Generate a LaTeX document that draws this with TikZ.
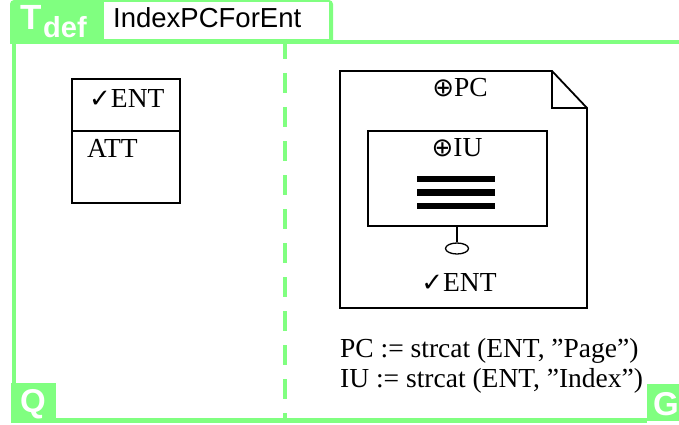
\documentclass[tikz,border=0pt]{standalone}
\usepackage{fontspec}
\setmainfont{Liberation Serif}
\newfontfamily\hvfont{Liberation Sans}
\newfontfamily\symfont{DejaVu Sans}
\usetikzlibrary{shapes.geometric}
\definecolor{framegreen}{RGB}{128,255,128}
\newcommand{\chk}{{\symfont\bfseries\fontsize{26}{30}\selectfont ✓}}
\newcommand{\opl}{{\symfont\fontsize{26}{30}\selectfont ⊕}}
\tikzset{
  rim/.style={draw=framegreen, line width=4.5pt},
  lbl/.style={inner sep=0pt, anchor=base west, font=\fontsize{27.5}{30}\selectfont},
  clbl/.style={inner sep=0pt, anchor=base, font=\fontsize{27.5}{30}\selectfont},
  corner/.style={inner sep=0pt, anchor=base west, text=white, font=\hvfont\bfseries\fontsize{35}{38}\selectfont},
  box/.style={draw=black, line width=1.8pt},
  bar/.style={line width=6.5pt},
}
\begin{document}
\begin{tikzpicture}[x=1pt, y=-1pt]
\useasboundingbox (0,0) rectangle (679,425);
\fill[white] (0,0) rectangle (679,425);

% frame: title tab, rule lines and corner tags
\fill[framegreen, rounded corners=4pt] (10,44) -- (10,0) -- (333,0) -- (333,44) -- cycle;
\fill[white] (104,2) rectangle (329,39);
\draw[rim] (10,42) -- (679,42);
\draw[rim] (14,42) -- (14,420);
\draw[rim] (11,420.5) -- (647,420.5);
\draw[framegreen, line width=4.5pt, dash pattern=on 20pt off 14pt] (285,39) -- (285,420);
\fill[framegreen] (11,383) rectangle (56,423);
\fill[framegreen] (647,384) rectangle (679,421);

\node[corner] (tdefT) at (20,30) {T};
\node[corner, font=\hvfont\bfseries\fontsize{29}{32}\selectfont] (tdefsub) at (43,38) {def};
\node[inner sep=0pt, anchor=base west, font=\hvfont\fontsize{27.5}{30}\selectfont] (title) at (113,28) {IndexPCForEnt};
\node[corner, font=\hvfont\bfseries\fontsize{33}{36}\selectfont] (qtag) at (20,412) {Q};
\node[corner, font=\hvfont\bfseries\fontsize{33}{36}\selectfont] (gtag) at (653,415) {G};

% entity box
\draw[box] (72,79) rectangle (180,203);
\draw[box] (72,131) -- (180,131);
\node[lbl] (entname) at (89,107) {\chk ENT};
\node[lbl] (entatt) at (87,157) {ATT};

% page document with folded corner
\draw[box] (340,71) -- (552,71) -- (587,108) -- (587,308) -- (340,308) -- cycle;
\draw[box] (552,71) -- (552,108) -- (587,108);
\node[clbl] (pcname) at (460,97) {\opl PC};

% index unit inside the page
\draw[box] (368,131) rectangle (547,226);
\coordinate (iubottom) at (457,226);
\node[clbl] (iuname) at (457,156) {\opl IU};
\draw[bar] (417,179) -- (495,179);
\draw[bar] (417,192.5) -- (495,192.5);
\draw[bar] (417,206) -- (495,206);

% lollipop to the entity reference
\node[ellipse, draw=black, line width=1.3pt, minimum width=23pt, minimum height=11pt, inner sep=0pt] (lol) at (457,248.5) {};
\draw[line width=1.3pt] (iubottom) -- (lol.north);
\node[clbl] (pcent) at (459,291) {\chk ENT};

% naming rules
\node[lbl] (rulepc) at (340,357) {PC := strcat (ENT, ”Page”)};
\node[lbl] (ruleiu) at (340,387) {IU := strcat (ENT, ”Index”)};
\end{tikzpicture}
\end{document}
